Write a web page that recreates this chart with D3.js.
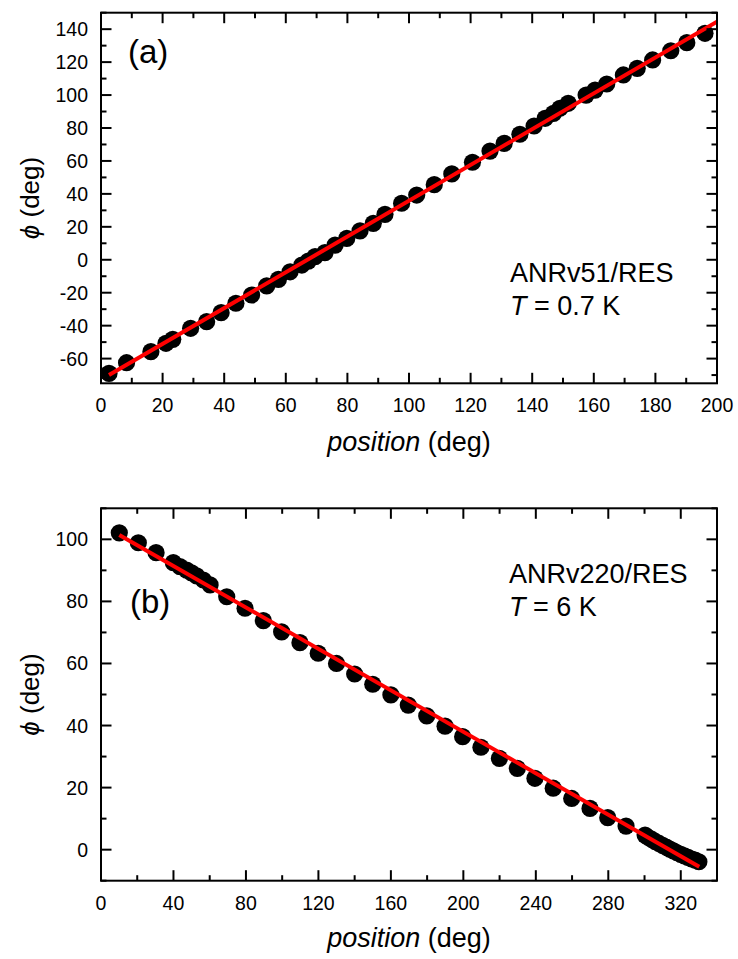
<!DOCTYPE html>
<html>
<head>
<meta charset="utf-8">
<script src="https://cdn.jsdelivr.net/npm/d3@7"></script>
<style>
  html, body { margin: 0; padding: 0; background: #fff; }
  svg text { font-family: "Liberation Sans", Arial, sans-serif; fill: #000; }
</style>
</head>
<body>
<svg id="chart" width="738" height="959"></svg>
<script>
// ---------- Panel (a) data ----------
const posA = [2.6, 8.3, 16.2, 21.1, 23.3, 29.1, 34.3, 39.0, 43.8, 48.9, 53.8, 57.6, 61.4, 65.2, 67.3, 69.5, 72.7, 76.0, 79.8, 84.1, 88.4, 92.2, 97.6, 102.5, 108.2, 113.9, 120.6, 126.3, 130.9, 136.0, 140.6, 144.2, 146.9, 149.0, 151.7, 157.5, 160.4, 164.2, 169.6, 174.1, 179.1, 185.0, 190.2, 196.1];
const phiA = [-69, -62.5, -55.8, -50.7, -48.3, -41.6, -37.6, -32.1, -26.4, -21.4, -15.9, -11.9, -7.3, -3.2, -0.8, 1.9, 4.3, 8.9, 13.0, 17.5, 22.1, 27.6, 34.3, 39.3, 45.6, 52.1, 59.2, 66.0, 70.7, 76.2, 81.2, 85.9, 88.9, 92.0, 95.0, 100.0, 103.0, 106.7, 112.2, 116.2, 121.3, 126.9, 131.8, 137.5];
const fitPosA = [2.6, 200];
const fitPhiA = [-70, 144.5];
const xTicksA = [0, 20, 40, 60, 80, 100, 120, 140, 160, 180, 200];
const yTicksA = [-60, -40, -20, 0, 20, 40, 60, 80, 100, 120, 140];

// ---------- Panel (b) data ----------
const posB = [10.1, 20.6, 30.4, 39.9, 43.6, 47.3, 50.0, 52.8, 56.5, 60.2, 69.4, 79.5, 89.6, 99.7, 109.8, 119.9, 130.0, 140.0, 150.0, 160.0, 169.6, 179.8, 189.9, 199.6, 209.7, 219.9, 229.8, 239.5, 249.6, 259.8, 269.9, 279.7, 289.8, 300.3, 302, 304, 306, 308, 310, 312, 314, 316, 318, 320, 322, 324, 326, 328, 330];
const phiB = [102.1, 98.9, 95.7, 92.5, 91.2, 90.1, 89.2, 88.2, 86.9, 85.3, 81.5, 77.8, 73.8, 70.2, 66.7, 63.3, 60.0, 56.6, 53.3, 49.9, 46.6, 43.1, 39.8, 36.4, 33.0, 29.4, 26.2, 23.0, 19.8, 16.5, 13.3, 10.3, 7.6, 4.7, 4.0, 3.3, 2.6, 2.0, 1.4, 0.8, 0.2, -0.4, -1.0, -1.5, -2.0, -2.5, -3.0, -3.4, -3.9];
const fitPosB = [10.1, 330.2];
const fitPhiB = [101.4, -5.5];
const xTicksB = [0, 40, 80, 120, 160, 200, 240, 280, 320];
const yTicksB = [0, 20, 40, 60, 80, 100];

const svg = d3.select("#chart");

function drawPanel(cfg) {
  const g = svg.append("g");
  const x = d3.scaleLinear().domain(cfg.xDomain).range([cfg.left, cfg.right]);
  const y = d3.scaleLinear().domain(cfg.yDomain).range([cfg.bottom, cfg.top]);

  const clipId = "clip" + cfg.id;
  svg.append("clipPath").attr("id", clipId).append("rect")
    .attr("x", cfg.left).attr("y", cfg.top)
    .attr("width", cfg.right - cfg.left).attr("height", cfg.bottom - cfg.top);

  // dots
  const data = cfg.pos.map((p, i) => ({p, v: cfg.phi[i]}));
  g.append("g").attr("clip-path", `url(#${clipId})`).selectAll("circle").data(data).join("circle")
    .attr("cx", d => x(d.p)).attr("cy", d => y(d.v)).attr("r", 8.6).attr("fill", "#000");

  // fit line
  const fit = cfg.fitPos.map((p, i) => [p, cfg.fitPhi[i]]);
  g.append("path").attr("clip-path", `url(#${clipId})`).datum(fit)
    .attr("d", d3.line().x(d => x(d[0])).y(d => y(d[1])))
    .attr("fill", "none").attr("stroke", "#ff0000").attr("stroke-width", 4);

  const major = 10.5, minor = 5.5;
  const xAll = d3.range(cfg.xDomain[0], cfg.xDomain[1] + 0.001, cfg.xMinorStep);
  const yAll = d3.range(Math.ceil(cfg.yDomain[0] / cfg.yMinorStep) * cfg.yMinorStep, cfg.yDomain[1] + 0.001, cfg.yMinorStep);
  const isMajorX = v => Math.abs(v / cfg.xMajorStep - Math.round(v / cfg.xMajorStep)) < 1e-6;
  const isMajorY = v => Math.abs(v / cfg.yMajorStep - Math.round(v / cfg.yMajorStep)) < 1e-6;

  const axB = d3.axisBottom(x).tickValues(xAll).tickSize(0).tickFormat("");
  const gb = g.append("g").attr("transform", `translate(0,${cfg.bottom})`).call(axB);
  gb.select(".domain").remove();
  const ticks = g.append("g").attr("stroke", "#000").attr("stroke-width", 2);
  xAll.forEach(v => {
    const L = isMajorX(v) ? major : minor;
    ticks.append("line").attr("x1", x(v)).attr("x2", x(v)).attr("y1", cfg.bottom).attr("y2", cfg.bottom - L);
    ticks.append("line").attr("x1", x(v)).attr("x2", x(v)).attr("y1", cfg.top).attr("y2", cfg.top + L);
  });
  yAll.forEach(v => {
    const L = isMajorY(v) ? major : minor;
    ticks.append("line").attr("y1", y(v)).attr("y2", y(v)).attr("x1", cfg.left).attr("x2", cfg.left + L);
    ticks.append("line").attr("y1", y(v)).attr("y2", y(v)).attr("x1", cfg.right).attr("x2", cfg.right - L);
  });

  g.append("g").selectAll("text").data(cfg.xTicks).join("text")
    .attr("x", d => x(d)).attr("y", cfg.bottom + 29)
    .attr("text-anchor", "middle").attr("font-size", 19.5).text(d => d);
  g.append("g").selectAll("text").data(cfg.yTicks).join("text")
    .attr("x", cfg.left - 13).attr("y", d => y(d) + 7)
    .attr("text-anchor", "end").attr("font-size", 19.5).text(d => d);

  g.append("rect").attr("x", cfg.left).attr("y", cfg.top)
    .attr("width", cfg.right - cfg.left).attr("height", cfg.bottom - cfg.top)
    .attr("fill", "none").attr("stroke", "#000").attr("stroke-width", 2);

  const xt = g.append("text").attr("x", (cfg.left + cfg.right) / 2).attr("y", cfg.bottom + cfg.xTitleOff)
    .attr("text-anchor", "middle").attr("font-size", 27);
  xt.append("tspan").attr("font-style", "italic").text("position");
  xt.append("tspan").text(" (deg)");

  const cy = (cfg.top + cfg.bottom) / 2;
  const yt = g.append("text").attr("transform", `translate(39,${cy}) rotate(-90)`)
    .attr("text-anchor", "middle").attr("font-size", 26);
  yt.append("tspan").attr("font-style", "italic").text("\u03D5");
  yt.append("tspan").text(" (deg)");

  g.append("text").attr("x", cfg.labelX).attr("y", cfg.labelY).attr("font-size", 33).text(cfg.label);

  g.append("text").attr("x", cfg.annX).attr("y", cfg.annY).attr("font-size", 27).text(cfg.ann1);
  const t2 = g.append("text").attr("x", cfg.annX).attr("y", cfg.annY + 33).attr("font-size", 27);
  t2.append("tspan").attr("font-style", "italic").text("T");
  t2.append("tspan").text(cfg.ann2);
}

drawPanel({
  id: "A", left: 101, right: 717, top: 12.7, bottom: 383.3,
  xDomain: [0, 200], yDomain: [-75, 150],
  xMajorStep: 20, xMinorStep: 10, yMajorStep: 20, yMinorStep: 10,
  xTicks: xTicksA, yTicks: yTicksA,
  pos: posA, phi: phiA, fitPos: fitPosA, fitPhi: fitPhiA,
  label: "(a)", labelX: 128, labelY: 63,
  ann1: "ANRv51/RES", ann2: " = 0.7 K", annX: 510, annY: 282,
  xTitleOff: 68
});

drawPanel({
  id: "B", left: 101, right: 717, top: 508.3, bottom: 880.7,
  xDomain: [0, 340], yDomain: [-10, 110],
  xMajorStep: 40, xMinorStep: 20, yMajorStep: 20, yMinorStep: 10,
  xTicks: xTicksB, yTicks: yTicksB,
  pos: posB, phi: phiB, fitPos: fitPosB, fitPhi: fitPhiB,
  label: "(b)", labelX: 130, labelY: 613,
  ann1: "ANRv220/RES", ann2: " = 6 K", annX: 509, annY: 583,
  xTitleOff: 66
});
</script>
</body>
</html>
